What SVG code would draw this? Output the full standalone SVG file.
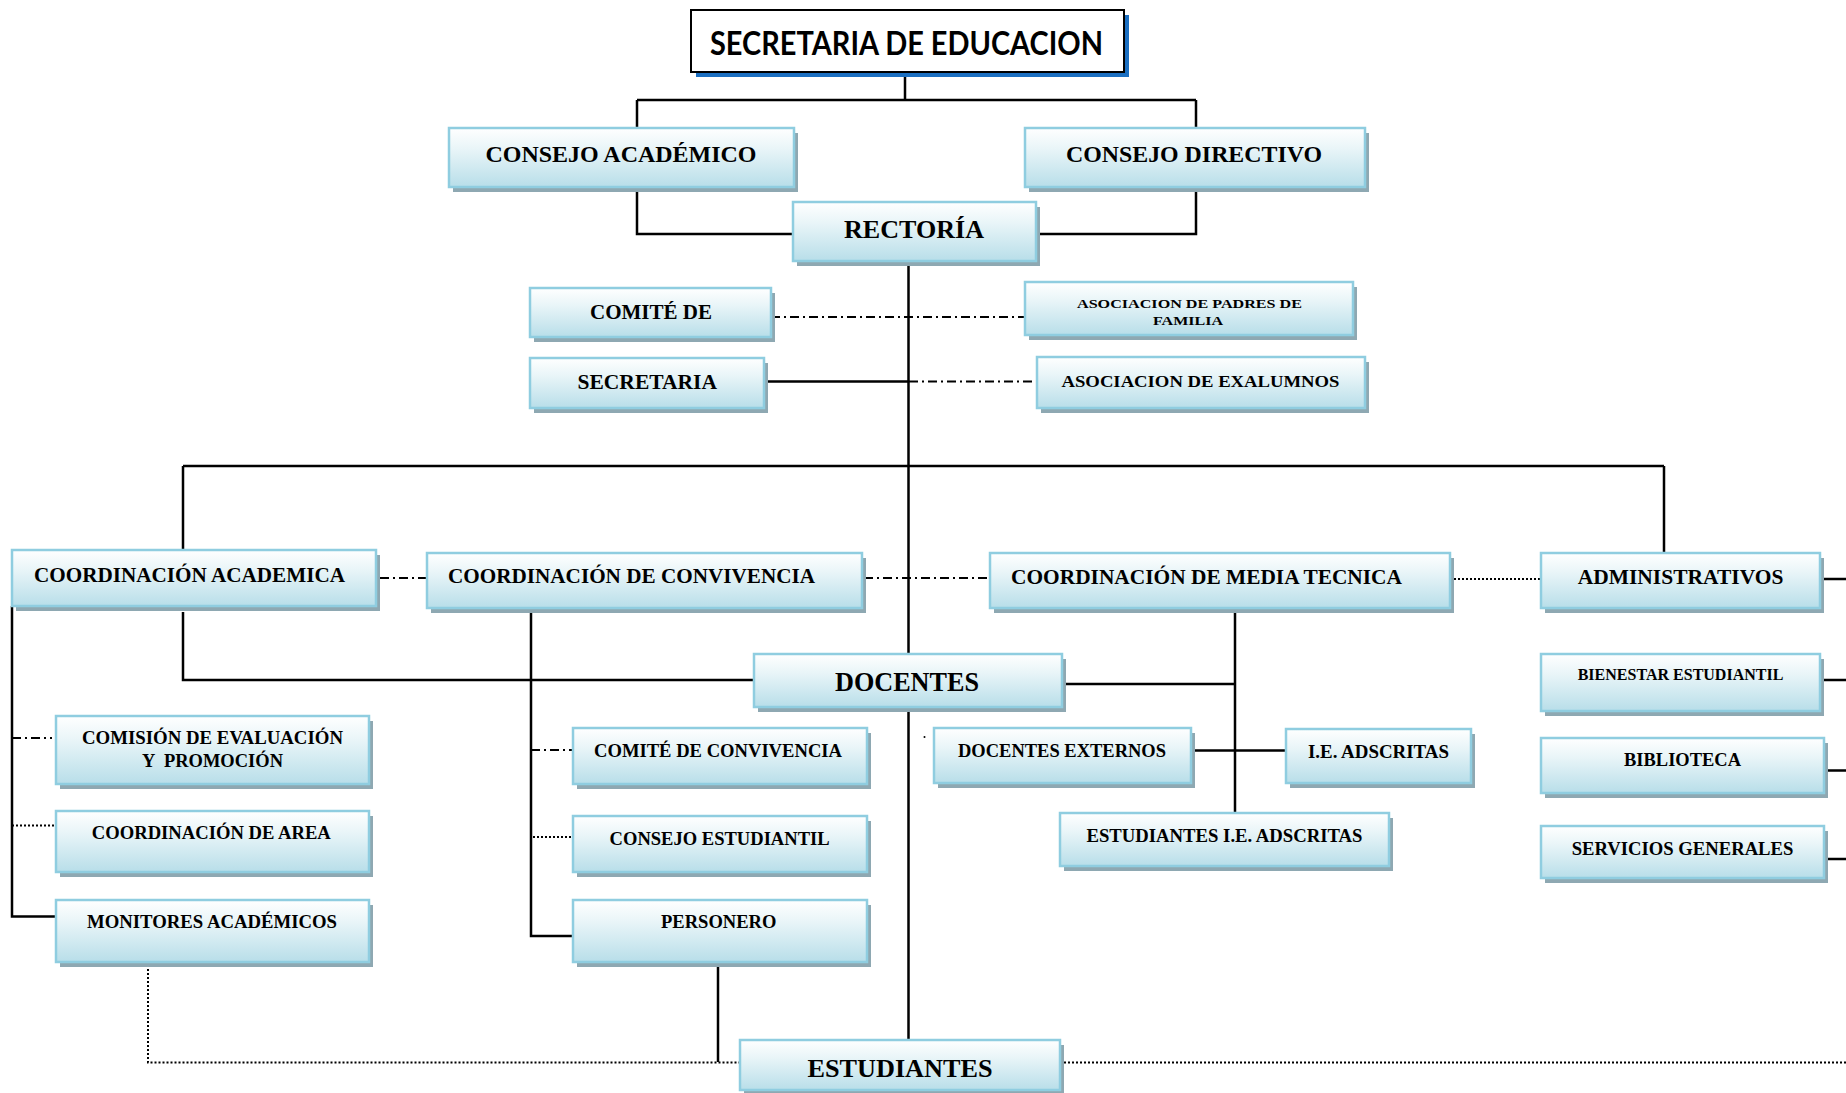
<svg xmlns="http://www.w3.org/2000/svg" width="1846" height="1093" viewBox="0 0 1846 1093">
<defs>
<linearGradient id="g" x1="0" y1="0" x2="0" y2="1">
<stop offset="0" stop-color="#ffffff"/>
<stop offset="0.35" stop-color="#e9f5f8"/>
<stop offset="1" stop-color="#b8dee9"/>
</linearGradient>
</defs>
<style>
.sh{fill:#8ea8b2}
.bx{fill:url(#g);stroke:#8fcde0;stroke-width:2.5}
.t{font-family:"Liberation Serif","Times New Roman",serif;font-weight:bold;fill:#000;white-space:pre}
.ln{fill:none;stroke:#000;stroke-width:2.5}
.dd{fill:none;stroke:#000;stroke-width:2;stroke-dasharray:9 4 2 4}
.dt{fill:none;stroke:#000;stroke-width:2;stroke-dasharray:2 2}
</style>
<rect width="1846" height="1093" fill="#ffffff"/>

<g id="connectors">
<path class="ln" d="M905 72V100M637 100H1196M637 100V128M1196 100V128"/>
<path class="ln" d="M637 187V234H793M1196 187V234H1036"/>
<path class="ln" d="M908.5 261V654M908.5 708V1040"/>
<path class="ln" d="M764 381.5H908.5"/>
<path class="ln" d="M183 466H1664M183 466V550M1664 466V553"/>
<path class="ln" d="M183 612V680H754"/>
<path class="ln" d="M1062 684H1235M1235 608V813"/>
<path class="ln" d="M1191 750.5H1286"/>
<path class="ln" d="M12 606V916.5H56"/>
<path class="ln" d="M531 608V936H573"/>
<path class="ln" d="M718 962V1062"/>
<path class="ln" d="M1824 579H1846M1824 680H1846M1826 770.5H1846M1826 859H1846"/>
<path class="dd" d="M771 317H1025"/>
<path class="dd" d="M909 381.5H1037"/>
<path class="dd" d="M380 578H427"/>
<path class="dd" d="M864 578H990"/>
<path class="dd" d="M12 738H52"/>
<path class="dd" d="M531 750H572"/>
<path class="dt" d="M1450 579H1541"/>
<path class="dt" d="M12 825.5H56"/>
<path class="dt" d="M533 837H573"/>
<path class="dt" d="M148 965V1062.5H740"/>
<path class="dt" d="M1060 1062.5H1846"/>
<circle cx="794" cy="680" r="1" fill="#000"/>
<circle cx="924.5" cy="737" r="1" fill="#000"/>
</g>

<g id="secretaria-educacion">
<rect x="696" y="15" width="433" height="62" fill="#1b6fc1"/>
<rect x="691" y="10" width="433" height="62" fill="#ffffff" stroke="#000" stroke-width="2"/>
<text x="710" y="55" font-family="Lato,'Open Sans',sans-serif" font-weight="bold" font-size="32" textLength="393" lengthAdjust="spacingAndGlyphs">SECRETARIA DE EDUCACION</text>
</g>

<g id="consejo-academico">
<rect class="sh" x="453" y="133" width="345" height="59"/>
<rect class="bx" x="449" y="128" width="345" height="59"/>
<text class="t" x="485.5" y="162" font-size="24" textLength="271" lengthAdjust="spacingAndGlyphs">CONSEJO ACADÉMICO</text>
</g>

<g id="consejo-directivo">
<rect class="sh" x="1029" y="133" width="340" height="59"/>
<rect class="bx" x="1025" y="128" width="340" height="59"/>
<text class="t" x="1066" y="162" font-size="24" textLength="256" lengthAdjust="spacingAndGlyphs">CONSEJO DIRECTIVO</text>
</g>

<g id="rectoria">
<rect class="sh" x="797" y="207" width="243" height="59"/>
<rect class="bx" x="793" y="202" width="243" height="59"/>
<text class="t" x="844" y="238" font-size="26" textLength="140" lengthAdjust="spacingAndGlyphs">RECTORÍA</text>
</g>

<g id="comite-de">
<rect class="sh" x="534" y="293" width="241" height="49"/>
<rect class="bx" x="530" y="288" width="241" height="49"/>
<text class="t" x="590" y="319" font-size="21" textLength="122" lengthAdjust="spacingAndGlyphs">COMITÉ DE</text>
</g>

<g id="asociacion-padres">
<rect class="sh" x="1029" y="287" width="328" height="53"/>
<rect class="bx" x="1025" y="282" width="328" height="53"/>
<text class="t" x="1077" y="307.5" font-size="13.5" textLength="225" lengthAdjust="spacingAndGlyphs">ASOCIACION DE PADRES DE</text>
<text class="t" x="1153" y="325" font-size="13.5" textLength="70" lengthAdjust="spacingAndGlyphs">FAMILIA</text>
</g>

<g id="secretaria">
<rect class="sh" x="534" y="363" width="234" height="50"/>
<rect class="bx" x="530" y="358" width="234" height="50"/>
<text class="t" x="577.5" y="389" font-size="21" textLength="139.5" lengthAdjust="spacingAndGlyphs">SECRETARIA</text>
</g>

<g id="asociacion-exalumnos">
<rect class="sh" x="1041" y="362" width="328" height="51"/>
<rect class="bx" x="1037" y="357" width="328" height="51"/>
<text class="t" x="1061.5" y="387" font-size="16" textLength="278" lengthAdjust="spacingAndGlyphs">ASOCIACION DE EXALUMNOS</text>
</g>

<g id="coordinacion-academica">
<rect class="sh" x="16" y="555" width="364" height="56"/>
<rect class="bx" x="12" y="550" width="364" height="56"/>
<text class="t" x="34" y="582" font-size="21.5" textLength="311" lengthAdjust="spacingAndGlyphs">COORDINACIÓN ACADEMICA</text>
</g>

<g id="coordinacion-convivencia">
<rect class="sh" x="431" y="558" width="435" height="55"/>
<rect class="bx" x="427" y="553" width="435" height="55"/>
<text class="t" x="448" y="583" font-size="21" textLength="367" lengthAdjust="spacingAndGlyphs">COORDINACIÓN DE CONVIVENCIA</text>
</g>

<g id="coordinacion-media-tecnica">
<rect class="sh" x="994" y="558" width="460" height="55"/>
<rect class="bx" x="990" y="553" width="460" height="55"/>
<text class="t" x="1011" y="584" font-size="21" textLength="391" lengthAdjust="spacingAndGlyphs">COORDINACIÓN DE MEDIA TECNICA</text>
</g>

<g id="administrativos">
<rect class="sh" x="1545" y="558" width="279" height="55"/>
<rect class="bx" x="1541" y="553" width="279" height="55"/>
<text class="t" x="1577.7" y="584" font-size="22" textLength="205.7" lengthAdjust="spacingAndGlyphs">ADMINISTRATIVOS</text>
</g>

<g id="docentes">
<rect class="sh" x="758" y="659" width="308" height="53"/>
<rect class="bx" x="754" y="654" width="308" height="53"/>
<text class="t" x="835" y="690.7" font-size="27" textLength="144" lengthAdjust="spacingAndGlyphs">DOCENTES</text>
</g>

<g id="bienestar-estudiantil">
<rect class="sh" x="1545" y="659" width="279" height="57"/>
<rect class="bx" x="1541" y="654" width="279" height="57"/>
<text class="t" x="1577.7" y="680" font-size="16.5" textLength="205.7" lengthAdjust="spacingAndGlyphs">BIENESTAR ESTUDIANTIL</text>
</g>

<g id="biblioteca">
<rect class="sh" x="1545" y="743" width="283" height="55"/>
<rect class="bx" x="1541" y="738" width="283" height="55"/>
<text class="t" x="1624" y="766" font-size="19" textLength="117" lengthAdjust="spacingAndGlyphs">BIBLIOTECA</text>
</g>

<g id="servicios-generales">
<rect class="sh" x="1545" y="831" width="283" height="52"/>
<rect class="bx" x="1541" y="826" width="283" height="52"/>
<text class="t" x="1571.7" y="855" font-size="19" textLength="221.7" lengthAdjust="spacingAndGlyphs">SERVICIOS GENERALES</text>
</g>

<g id="comision-evaluacion">
<rect class="sh" x="60" y="721" width="313" height="68"/>
<rect class="bx" x="56" y="716" width="313" height="68"/>
<text class="t" x="82" y="744.3" font-size="18" textLength="261" lengthAdjust="spacingAndGlyphs">COMISIÓN DE EVALUACIÓN</text>
<text class="t" x="142" y="766.7" font-size="18" textLength="141" lengthAdjust="spacingAndGlyphs">Y  PROMOCIÓN</text>
</g>

<g id="coordinacion-area">
<rect class="sh" x="60" y="816" width="313" height="61"/>
<rect class="bx" x="56" y="811" width="313" height="61"/>
<text class="t" x="91.8" y="839" font-size="18" textLength="239" lengthAdjust="spacingAndGlyphs">COORDINACIÓN DE AREA</text>
</g>

<g id="monitores-academicos">
<rect class="sh" x="60" y="905" width="313" height="62"/>
<rect class="bx" x="56" y="900" width="313" height="62"/>
<text class="t" x="87" y="927.7" font-size="18" textLength="250" lengthAdjust="spacingAndGlyphs">MONITORES ACADÉMICOS</text>
</g>

<g id="comite-convivencia">
<rect class="sh" x="577" y="733" width="294" height="56"/>
<rect class="bx" x="573" y="728" width="294" height="56"/>
<text class="t" x="594" y="756.7" font-size="18.5" textLength="248" lengthAdjust="spacingAndGlyphs">COMITÉ DE CONVIVENCIA</text>
</g>

<g id="consejo-estudiantil">
<rect class="sh" x="577" y="821" width="294" height="56"/>
<rect class="bx" x="573" y="816" width="294" height="56"/>
<text class="t" x="609.6" y="845" font-size="18" textLength="220" lengthAdjust="spacingAndGlyphs">CONSEJO ESTUDIANTIL</text>
</g>

<g id="personero">
<rect class="sh" x="577" y="905" width="294" height="62"/>
<rect class="bx" x="573" y="900" width="294" height="62"/>
<text class="t" x="661" y="927.7" font-size="18" textLength="115.4" lengthAdjust="spacingAndGlyphs">PERSONERO</text>
</g>

<g id="docentes-externos">
<rect class="sh" x="938" y="733" width="257" height="55"/>
<rect class="bx" x="934" y="728" width="257" height="55"/>
<text class="t" x="958" y="757.3" font-size="18.5" textLength="208" lengthAdjust="spacingAndGlyphs">DOCENTES EXTERNOS</text>
</g>

<g id="ie-adscritas">
<rect class="sh" x="1290" y="734" width="185" height="54"/>
<rect class="bx" x="1286" y="729" width="185" height="54"/>
<text class="t" x="1308" y="758.3" font-size="18.5" textLength="141" lengthAdjust="spacingAndGlyphs">I.E. ADSCRITAS</text>
</g>

<g id="estudiantes-ie-adscritas">
<rect class="sh" x="1064" y="818" width="329" height="53"/>
<rect class="bx" x="1060" y="813" width="329" height="53"/>
<text class="t" x="1086.5" y="841.7" font-size="18.5" textLength="276" lengthAdjust="spacingAndGlyphs">ESTUDIANTES I.E. ADSCRITAS</text>
</g>

<g id="estudiantes">
<rect class="sh" x="744" y="1045" width="320" height="50"/>
<rect class="bx" x="740" y="1040" width="320" height="50"/>
<text class="t" x="807.5" y="1076.7" font-size="25" textLength="185" lengthAdjust="spacingAndGlyphs">ESTUDIANTES</text>
</g>
</svg>
